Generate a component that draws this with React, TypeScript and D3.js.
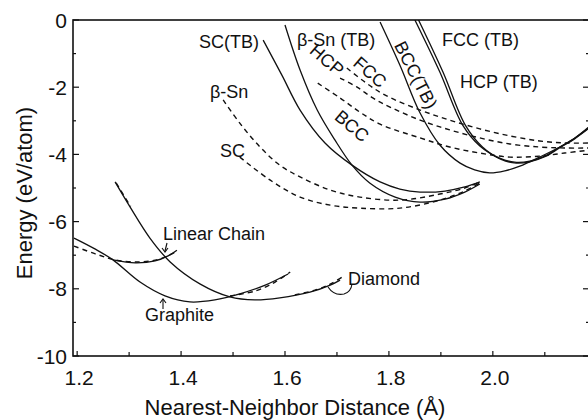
import React from "react";
import * as d3 from "d3";

type P = [number, number];

// Nearest-neighbour distance (Å) vs energy (eV/atom)
// Tight-binding (solid) curves
const scTB: P[] = [[1.558,-0.60],[1.594,-1.64],[1.629,-2.68],[1.677,-3.66],[1.729,-4.32],[1.783,-4.82],[1.821,-5.03],[1.860,-5.12],[1.908,-5.09],[1.946,-4.97],[1.975,-4.82]];
const bSnTB: P[] = [[1.600,-0.15],[1.629,-1.49],[1.662,-2.68],[1.696,-3.57],[1.729,-4.32],[1.763,-4.85],[1.812,-5.27],[1.860,-5.42],[1.908,-5.33],[1.946,-5.12],[1.975,-4.88]];
const bccTB: P[] = [[1.783,-0.06],[1.821,-1.34],[1.860,-2.77],[1.898,-3.72],[1.937,-4.26],[1.965,-4.46],[1.994,-4.55],[2.023,-4.49],[2.052,-4.35],[2.090,-4.08],[2.129,-3.78],[2.158,-3.51],[2.187,-3.15]];
const fccTB: P[] = [[1.850,0.0],[1.898,-1.55],[1.942,-3.13],[1.975,-3.75],[2.013,-4.11],[2.042,-4.23],[2.071,-4.20],[2.100,-4.05],[2.129,-3.78],[2.158,-3.51],[2.187,-3.18]];
const hcpTB: P[] = [[1.857,0.0],[1.904,-1.55],[1.947,-3.13],[1.980,-3.78],[2.016,-4.15],[2.045,-4.26],[2.071,-4.22],[2.100,-4.07],[2.129,-3.80],[2.158,-3.53],[2.187,-3.20]];
const graphiteTB: P[] = [[1.194,-6.49],[1.235,-6.82],[1.269,-7.14],[1.321,-7.80],[1.369,-8.21],[1.417,-8.39],[1.465,-8.33],[1.513,-8.15],[1.562,-7.89],[1.606,-7.56]];
const linearTB: P[] = [[1.269,-7.14],[1.312,-7.23],[1.350,-7.17],[1.375,-7.02],[1.392,-6.85]];
const diamondTB: P[] = [[1.273,-4.82],[1.302,-5.57],[1.340,-6.49],[1.379,-7.20],[1.437,-7.86],[1.494,-8.24],[1.542,-8.33],[1.590,-8.27],[1.648,-8.10],[1.687,-7.89],[1.706,-7.74]];

// First-principles (dashed) curves
const bSnLDA: P[] = [[1.481,-2.38],[1.513,-3.07],[1.552,-3.78],[1.590,-4.32],[1.629,-4.67],[1.687,-5.06],[1.744,-5.27],[1.821,-5.36],[1.898,-5.18],[1.946,-5.00],[1.975,-4.82]];
const scLDA: P[] = [[1.513,-4.08],[1.571,-4.76],[1.629,-5.27],[1.687,-5.51],[1.744,-5.60],[1.821,-5.60],[1.898,-5.36],[1.946,-5.09],[1.975,-4.85]];
const fccLDA: P[] = [[1.719,-1.43],[1.754,-1.85],[1.792,-2.23],[1.860,-2.68],[1.917,-2.98],[1.975,-3.24],[2.033,-3.45],[2.090,-3.60],[2.138,-3.66],[2.187,-3.66]];
const hcpLDA: P[] = [[1.706,-1.73],[1.738,-1.99],[1.769,-2.32],[1.802,-2.59],[1.860,-2.98],[1.917,-3.27],[1.975,-3.51],[2.033,-3.69],[2.090,-3.78],[2.138,-3.81],[2.187,-3.81]];
const bccLDA: P[] = [[1.663,-1.88],[1.706,-2.32],[1.744,-2.74],[1.783,-3.10],[1.860,-3.51],[1.917,-3.78],[1.975,-3.96],[2.033,-4.08],[2.090,-4.05],[2.138,-3.96],[2.187,-3.87]];
const graphiteLDA: P[] = [[1.494,-8.21],[1.542,-8.07],[1.581,-7.80],[1.610,-7.50]];
const linearLDA: P[] = [[1.194,-6.73],[1.235,-6.96],[1.273,-7.14],[1.321,-7.20],[1.360,-7.11],[1.392,-6.88]];
const diamondLDA: P[] = [[1.619,-8.18],[1.658,-8.04],[1.687,-7.86],[1.710,-7.65]];
const diamondLDATop: P[] = [[1.275,-4.85],[1.303,-5.55]];

const solidSeries = [scTB, bSnTB, bccTB, fccTB, hcpTB, graphiteTB, linearTB, diamondTB];
const dashedSeries = [bSnLDA, scLDA, fccLDA, hcpLDA, bccLDA, graphiteLDA, linearLDA, diamondLDA, diamondLDATop];

const xTicks = [1.2, 1.4, 1.6, 1.8, 2.0];
const xTickLabels = ["1.2", "1.4", "1.6", "1.8", "2.0"];
const xMinor = [1.3, 1.5, 1.7, 1.9, 2.1];
const yTicks = [0, -2, -4, -6, -8, -10];
const yTickLabels = ["0", "-2", "-4", "-6", "-8", "-10"];
const yMinor = [-1, -3, -5, -7, -9];

const xTitle = "Nearest-Neighbor Distance (Å)";
const yTitle = "Energy (eV/atom)";

const FONT = "'Liberation Sans', Arial, Helvetica, sans-serif";

export default function App() {
  const x = d3.scaleLinear().domain([1.192, 2.187]).range([73, 590]);
  const y = d3.scaleLinear().domain([0, -10]).range([20, 356]);
  const line = d3
    .line<P>()
    .x((d) => x(d[0]))
    .y((d) => y(d[1]))
    .curve(d3.curveCatmullRom.alpha(0.5));

  const left = 73, right = 590, top = 20, bottom = 356;

  return (
    <svg
      width={588}
      height={420}
      style={{ position: "absolute", left: 0, top: 0, background: "#fff" }}
      fontFamily={FONT}
    >
      <defs>
        <clipPath id="plot">
          <rect x={left} y={top} width={right - left} height={bottom - top} />
        </clipPath>
      </defs>
      <rect x={0} y={0} width={588} height={420} fill="#fff" />

      <g clipPath="url(#plot)" fill="none" stroke="#111">
        {solidSeries.map((s, i) => (
          <path key={"s" + i} d={line(s) || ""} strokeWidth={1.3} />
        ))}
        {dashedSeries.map((s, i) => (
          <path key={"d" + i} d={line(s) || ""} strokeWidth={1.4} strokeDasharray="5,4" />
        ))}
      </g>

      {/* frame */}
      <rect x={left} y={top} width={right - left} height={bottom - top} fill="none" stroke="#111" strokeWidth={1.6} />

      {/* y ticks */}
      <g stroke="#111" strokeWidth={1.2}>
        {yTicks.map((v) => (
          <g key={"yt" + v}>
            <line x1={left} x2={left + 6} y1={y(v)} y2={y(v)} />
            <line x1={right} x2={right - 7} y1={y(v)} y2={y(v)} />
          </g>
        ))}
        {yMinor.map((v) => (
          <g key={"ym" + v}>
            <line x1={left} x2={left + 3} y1={y(v)} y2={y(v)} />
            <line x1={right} x2={right - 4} y1={y(v)} y2={y(v)} />
          </g>
        ))}
        {xTicks.map((v) => (
          <line key={"xt" + v} x1={x(v)} x2={x(v)} y1={bottom} y2={bottom - 5} />
        ))}
        {xMinor.map((v) => (
          <line key={"xm" + v} x1={x(v)} x2={x(v)} y1={bottom} y2={bottom - 4} />
        ))}
      </g>

      {/* tick labels */}
      <g fontSize={21} fill="#111">
        {yTicks.map((v, i) => (
          <text key={"yl" + v} x={67} y={y(v) + 7.5} textAnchor="end">
            {yTickLabels[i]}
          </text>
        ))}
        {xTicks.map((v, i) => (
          <text key={"xl" + v} x={x(v) + 2} y={385} textAnchor="middle">
            {xTickLabels[i]}
          </text>
        ))}
      </g>

      {/* axis titles */}
      <text x={295} y={415} textAnchor="middle" fontSize={22} fill="#111">
        {xTitle}
      </text>
      <text transform="translate(32,193) rotate(-90)" textAnchor="middle" fontSize={22} fill="#111">
        {yTitle}
      </text>

      {/* annotations */}
      <g fontSize={18} fill="#111">
        <text x={259} y={48} textAnchor="end">SC(TB)</text>
        <text x={297} y={46}>β-Sn (TB)</text>
        <text x={442} y={46}>FCC (TB)</text>
        <text x={460} y={88}>HCP (TB)</text>
        <text transform="translate(416,75) rotate(63)" textAnchor="middle" dy="0.35em">BCC(TB)</text>
        <text x={210} y={98}>β-Sn</text>
        <text x={220} y={157}>SC</text>
        <text transform="translate(327,60) rotate(41)" textAnchor="middle" dy="0.35em">HCP</text>
        <text transform="translate(370,72) rotate(41)" textAnchor="middle" dy="0.35em">FCC</text>
        <text transform="translate(352,126) rotate(40)" textAnchor="middle" dy="0.35em">BCC</text>
        <text x={163} y={240}>Linear Chain</text>
        <text x={145} y={321}>Graphite</text>
        <text x={348} y={285}>Diamond</text>
      </g>

      {/* small leaders */}
      <g stroke="#111" strokeWidth={1.1} fill="none">
        <path d="M167,243 L165,251" />
        <path d="M162,248 L165,252 L168,248" />
        <path d="M163,309 L163,300" />
        <path d="M160,303 L163,299 L166,303" />
        <path d="M328,287 Q334,296 344,294 Q351,292 352,284" />
      </g>
    </svg>
  );
}
